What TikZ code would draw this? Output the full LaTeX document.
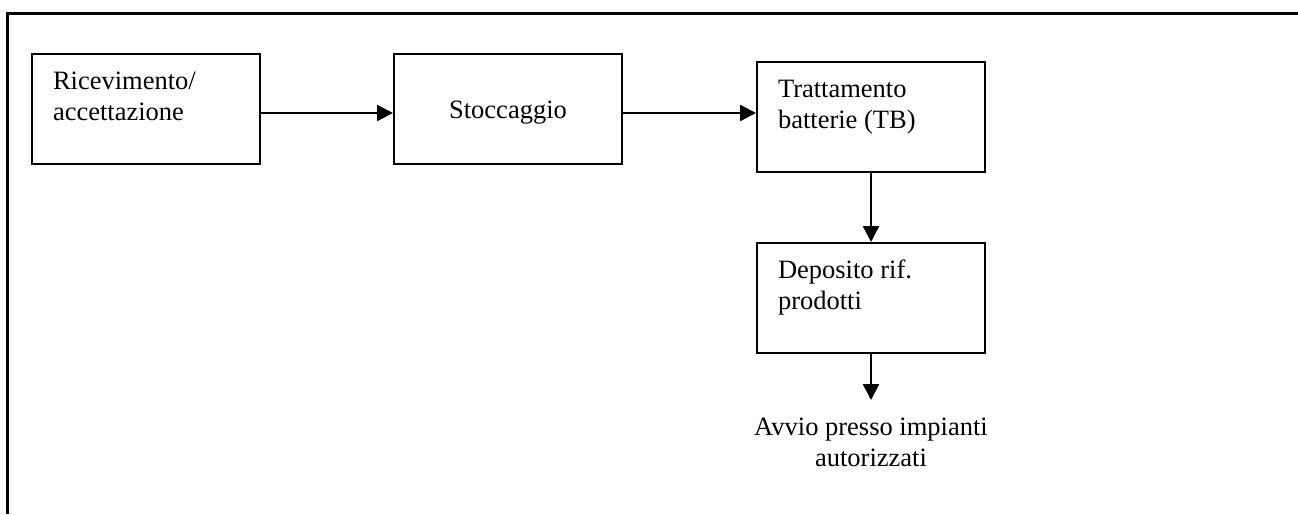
\documentclass[tikz,border=0pt]{standalone}
\usepackage{fontspec}
\setmainfont{Liberation Serif}
\usetikzlibrary{arrows.meta}
\newcommand{\boxtxt}[2][35pt]{\parbox[c][110pt][t]{186pt}{\rule{0pt}{#1}#2}}

\begin{document}
\begin{tikzpicture}[x=1pt,y=-1pt,line width=2pt,
  font=\fontsize{26.5}{31}\selectfont,
  stage/.style={draw,inner xsep=21pt,inner ysep=0pt},
  flow/.style={-{Triangle[length=16pt,width=16pt]},line width=2.5pt}]
\useasboundingbox (0,0) rectangle (1298,514);
\coordinate (L) at (7,514);
\coordinate (C) at (7,13);
\coordinate (R) at (1298,13);
\draw[line width=3pt] (L)--(C)--(R);
\node[stage] (rice) at (146,109) {\boxtxt{Ricevimento/\\accettazione}};
\node[stage] (stocc) at (508,109) {\boxtxt[64pt]{\centering Stoccaggio}};
\node[stage] (tratt) at (871,117) {\boxtxt{Trattamento\\batterie (TB)}};
\node[stage] (depos) at (871,298) {\boxtxt{Deposito rif.\\prodotti}};
\node[anchor=north,align=center,inner xsep=0pt,inner ysep=17pt] (avvio) at (871,400) {Avvio presso impianti\\autorizzati};
\draw[flow] ([yshift=-4pt]rice.east) -- ([yshift=-4pt]stocc.west);
\draw[flow] ([yshift=-4pt]stocc.east) -- ([yshift=-4pt]stocc.east -| tratt.west);
\draw[flow] (tratt) -- (depos);
\draw[flow] (depos) -- (avvio);
\end{tikzpicture}
\end{document}
